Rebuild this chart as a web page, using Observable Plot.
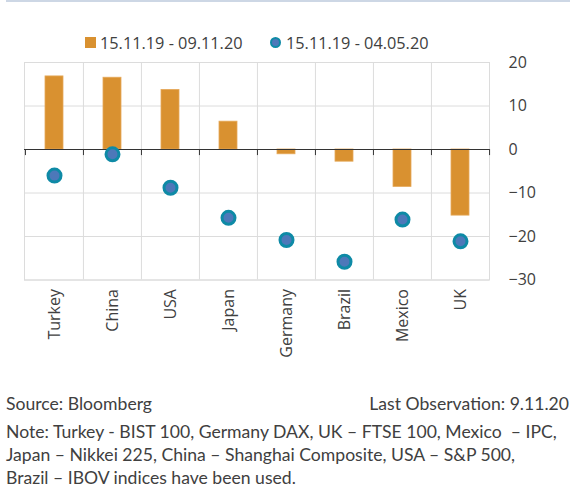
<!DOCTYPE html>
<html>
<head>
<meta charset="utf-8">
<script src="https://cdn.jsdelivr.net/npm/d3@7"></script>
<script src="https://cdn.jsdelivr.net/npm/@observablehq/plot@0.6"></script>
<style>
  html, body { margin: 0; padding: 0; background: #fff; }
  body { width: 570px; height: 489px; position: relative; overflow: hidden; font-family: "Open Sans", sans-serif; color: #404040; }
  .topline { position: absolute; left: 6px; right: 0; top: 0; height: 2px; background: #cdd7e5; }
  .legend { position: absolute; top: 31px; left: 0; width: 570px; height: 24px; font-size: 16.3px; color: #404040; }
  .legend span { position: absolute; line-height: 24px; }
  .legend .sq { left: 85px; top: 6px; width: 11px; height: 11px; background: #d99130; }
  .legend .dot { left: 270px; top: 6px; width: 7px; height: 7px; border-radius: 50%; background: #4d78b9; border: 2px solid #0e8aa6; }
  #l1 { left: 100px; top: 0; }
  #l2 { left: 286px; top: 0; }
  #chart { position: absolute; top: 52px; left: 0; }
  .footer { position: absolute; left: 6px; width: 563px; font-family: Lato, sans-serif; font-size: 17.6px; line-height: 23px; color: #404040; }
  .src { top: 392px; display: flex; justify-content: space-between; }
  .note { top: 420px; }
</style>
</head>
<body>
<div class="topline"></div>
<div class="legend">
  <span class="sq"></span><span id="l1"></span>
  <span class="dot"></span><span id="l2"></span>
</div>
<div id="chart"></div>
<div class="footer src"><span>Source: Bloomberg</span><span>Last Observation: 9.11.20</span></div>
<div class="footer note">Note: Turkey - BIST 100, Germany DAX, UK – FTSE 100, Mexico &nbsp;– IPC,<br>Japan – Nikkei 225, China – Shanghai Composite, USA – S&amp;P 500,<br>Brazil – IBOV indices have been used.</div>
<script>
const countries = ["Turkey", "China", "USA", "Japan", "Germany", "Brazil", "Mexico", "UK"];
const seriesNames = ["15.11.19 - 09.11.20", "15.11.19 - 04.05.20"];
const toNov = [16.8, 16.5, 13.7, 6.4, -1.1, -2.8, -8.6, -15.2];
const toMay = [-6.0, -1.1, -8.8, -15.7, -20.8, -25.8, -16.1, -21.1];
const yTicks = [20, 10, 0, -10, -20, -30];

document.getElementById("l1").textContent = seriesNames[0];
document.getElementById("l2").textContent = seriesNames[1];

const data = countries.map((c, i) => ({country: c, nov: toNov[i], may: toMay[i]}));

const W = 570, mL = 24, mR = 81;
const half = (W - mL - mR) / countries.length / 2;

const chart = Plot.plot({
  width: W,
  height: 333,
  marginTop: 10,
  marginBottom: 105.5,
  marginLeft: mL,
  marginRight: mR,
  style: {fontFamily: "'Open Sans', sans-serif", fontSize: "16px", color: "#404040", background: "transparent"},
  x: {domain: countries, padding: 0, label: null},
  y: {domain: [-30, 20], label: null},
  marks: [
    Plot.ruleY(yTicks.filter(d => d !== 0), {stroke: "#dcdcdc", strokeWidth: 1}),
    Plot.ruleX(countries.slice(1), {x: d => d, dx: -half, stroke: "#dcdcdc"}),
    Plot.frame({stroke: "#dcdcdc"}),
    Plot.barY(data, {x: "country", y: "nov", fill: "#d99130", stroke: "#e5a95a", strokeWidth: 0.8, insetLeft: 20, insetRight: 20}),
    Plot.ruleY([0], {stroke: "#333", strokeWidth: 1.2}),
    Plot.ruleX(countries, {x: d => d, dx: -half, y1: 0, y2: -1.4, stroke: "#333"}),
    Plot.ruleX(countries.slice(-1), {x: d => d, dx: half, y1: 0, y2: -1.4, stroke: "#333"}),
    Plot.dot(data, {x: "country", y: "may", r: 6.5, fill: "#4d78b9", stroke: "#0e8aa6", strokeWidth: 3}),
    Plot.axisY({anchor: "right", ticks: yTicks, tickSize: 0, tickPadding: 19, fontSize: 16, fill: "#404040"}),
    Plot.axisX({anchor: "bottom", tickRotate: -90, tickSize: 0, tickPadding: 9, fontSize: 16, fill: "#404040"})
  ]
});
document.getElementById("chart").appendChild(chart);
</script>
</body>
</html>
